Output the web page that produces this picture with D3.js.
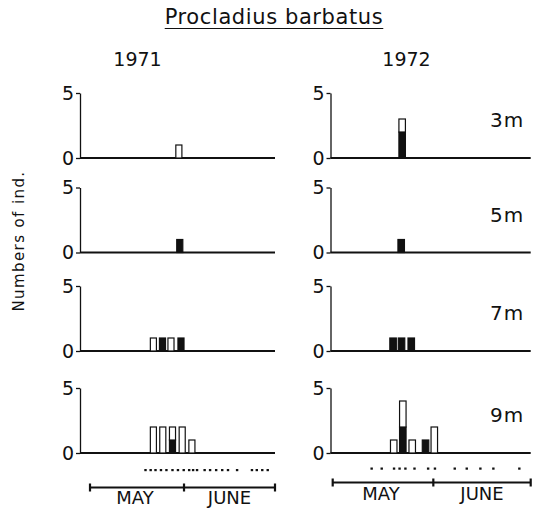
<!DOCTYPE html>
<html>
<head>
<meta charset="utf-8">
<script src="https://cdn.jsdelivr.net/npm/d3@7"></script>
<style>
  body { margin: 0; background: #fff; }
  svg { display: block; font-family: "DejaVu Sans", sans-serif; }
</style>
</head>
<body>
<svg id="chart" width="537" height="508"></svg>
<script>
// values; day = days after 1 May
const title = "Procladius barbatus";
const years = ["1971", "1972"];
const depths = ["3m", "5m", "7m", "9m"];
const months = ["MAY", "JUNE"];
const monthBounds = [0, 31, 61];
const yTicks = [0, 5];

const bars71_3m = [{ day: 29.3, dark: 0, light: 1 }];
const bars71_5m = [{ day: 29.6, dark: 1, light: 0 }];
const bars71_7m = [
  { day: 20.9, dark: 0, light: 1 },
  { day: 23.9, dark: 1, light: 0 },
  { day: 26.7, dark: 0, light: 1 },
  { day: 30.0, dark: 1, light: 0 }
];
const bars71_9m = [
  { day: 20.9, dark: 0, light: 2 },
  { day: 24.0, dark: 0, light: 2 },
  { day: 27.2, dark: 1, light: 1 },
  { day: 30.4, dark: 0, light: 2 },
  { day: 33.6, dark: 0, light: 1 }
];
const bars72_3m = [{ day: 21.4, dark: 2, light: 1 }];
const bars72_5m = [{ day: 21.1, dark: 1, light: 0 }];
const bars72_7m = [
  { day: 18.6, dark: 1, light: 0 },
  { day: 21.2, dark: 1, light: 0 },
  { day: 24.2, dark: 1, light: 0 }
];
const bars72_9m = [
  { day: 18.8, dark: 0, light: 1 },
  { day: 21.6, dark: 2, light: 2 },
  { day: 24.5, dark: 0, light: 1 },
  { day: 28.6, dark: 1, light: 0 },
  { day: 31.3, dark: 0, light: 2 }
];

const samples1971 = [18.3, 20.0, 21.6, 23.4, 25.2, 27.2, 29.0, 30.9, 32.7, 34.0, 35.3,
  37.8, 39.6, 41.6, 43.6, 45.5, 48.5, 53.4, 55.0, 56.8, 58.6];
const samples1972 = [12.0, 15.1, 18.9, 20.6, 22.4, 25.2, 29.4, 31.5, 37.6, 41.3, 45.5, 49.5, 57.5];

const panelBars = [
  [bars71_3m, bars71_5m, bars71_7m, bars71_9m],
  [bars72_3m, bars72_5m, bars72_7m, bars72_9m]
];
const samples = [samples1971, samples1972];

// layout
const cols = [
  { axis: 80, x0: 90, x1: 275, yearX: 137.5, timeY: 487.5, labelY: 504, dotY: 470 },
  { axis: 330.5, x0: 332.7, x1: 530.7, yearX: 406.5, timeY: 482.5, labelY: 500, dotY: 468.5 }
];
const rowBase = [158, 252.5, 351, 453];
const rowH = 65;
const ink = "#111";

const svg = d3.select("#chart");

// title with underline
const t = svg.append("text")
  .attr("x", 274).attr("y", 23.5)
  .attr("text-anchor", "middle")
  .style("font-size", "21px")
  .style("letter-spacing", "0.6px")
  .attr("fill", ink)
  .text(title);
const tb = t.node().getBBox();
svg.append("line")
  .attr("x1", tb.x).attr("x2", tb.x + tb.width)
  .attr("y1", 28.5).attr("y2", 28.5)
  .attr("stroke", ink).attr("stroke-width", 1);

// y title
svg.append("text")
  .attr("transform", "translate(24,241) rotate(-90)")
  .attr("text-anchor", "middle")
  .style("font-size", "15px")
  .style("letter-spacing", "1.4px")
  .attr("fill", ink)
  .text("Numbers of ind.");

cols.forEach((c, ci) => {
  const x = d3.scaleLinear().domain([0, 61]).range([c.x0, c.x1]);

  svg.append("text")
    .attr("x", c.yearX).attr("y", 66)
    .attr("text-anchor", "middle")
    .style("font-size", "19px")
    .attr("fill", ink)
    .text(years[ci]);

  rowBase.forEach((base, ri) => {
    const y = d3.scaleLinear().domain([0, 5]).range([base, base - rowH]);
    const g = svg.append("g");

    // baseline
    g.append("line")
      .attr("x1", c.axis).attr("x2", x(61))
      .attr("y1", base).attr("y2", base)
      .attr("stroke", ink).attr("stroke-width", 1.8);

    // y axis
    const ax = g.append("g")
      .attr("transform", `translate(${c.axis},0)`)
      .call(d3.axisLeft(y).tickValues(yTicks).tickFormat(d3.format("d"))
        .tickSize(4).tickSizeOuter(0).tickPadding(2));
    ax.attr("font-size", null).attr("font-family", null);
    ax.select(".domain").attr("stroke", ink).attr("stroke-width", 1.3);
    ax.selectAll(".tick line").attr("stroke", ink).attr("stroke-width", 1.3);
    ax.selectAll(".tick text")
      .attr("fill", ink)
      .style("font-size", "19px");

    // stacked bars: dark below, light above
    const bw = x(2) - x(0);
    const data = panelBars[ci][ri];
    g.selectAll(".dark")
      .data(data.filter(d => d.dark > 0))
      .join("rect")
      .attr("class", "dark")
      .attr("x", d => x(d.day) - bw / 2)
      .attr("y", d => y(d.dark))
      .attr("width", bw)
      .attr("height", d => y(0) - y(d.dark))
      .attr("fill", ink)
      .attr("stroke", ink)
      .attr("stroke-width", 1.2);
    g.selectAll(".light")
      .data(data.filter(d => d.light > 0))
      .join("rect")
      .attr("class", "light")
      .attr("x", d => x(d.day) - bw / 2)
      .attr("y", d => y(d.dark + d.light))
      .attr("width", bw)
      .attr("height", d => y(d.dark) - y(d.dark + d.light))
      .attr("fill", "#fff")
      .attr("stroke", ink)
      .attr("stroke-width", 1.2);

    // depth label
    if (ci === 1) {
      g.append("text")
        .attr("x", 490).attr("y", base - 31)
        .style("font-size", "20px")
        .style("letter-spacing", "1px")
        .attr("fill", ink)
        .text(depths[ri]);
    }
  });

  // sampling dates
  svg.append("g").selectAll("rect")
    .data(samples[ci])
    .join("rect")
    .attr("x", d => x(d) - 1.2)
    .attr("y", c.dotY - 1)
    .attr("width", 2.4)
    .attr("height", 2.2)
    .attr("fill", ink);

  // month axis
  const m = svg.append("g");
  m.append("line")
    .attr("x1", x(0)).attr("x2", x(61))
    .attr("y1", c.timeY).attr("y2", c.timeY)
    .attr("stroke", ink).attr("stroke-width", 1.8);
  m.selectAll(".mt")
    .data(monthBounds)
    .join("line")
    .attr("class", "mt")
    .attr("x1", d => x(d)).attr("x2", d => x(d))
    .attr("y1", c.timeY - 4).attr("y2", c.timeY + 4)
    .attr("stroke", ink).attr("stroke-width", 2.2);
  m.selectAll(".ml")
    .data(months)
    .join("text")
    .attr("class", "ml")
    .attr("x", (d, i) => (x(monthBounds[i]) + x(monthBounds[i + 1])) / 2 - (i === 0 ? 2 : 0))
    .attr("y", c.labelY)
    .attr("text-anchor", "middle")
    .style("font-size", "18px")
    .attr("fill", ink)
    .text(d => d);
});
</script>
</body>
</html>
